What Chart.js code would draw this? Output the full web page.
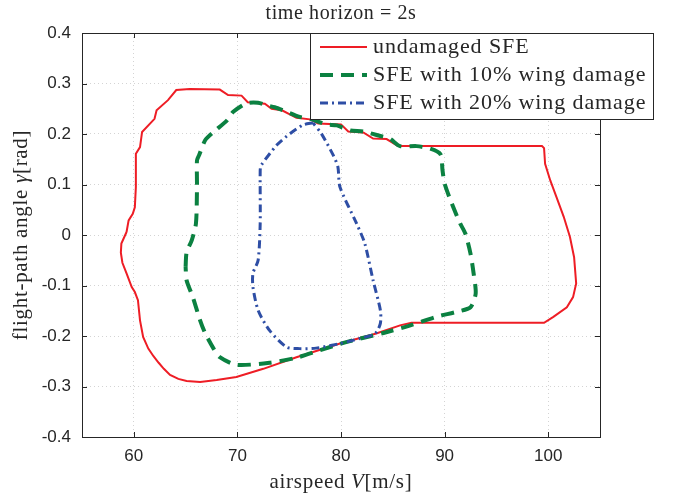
<!DOCTYPE html>
<html>
<head>
<meta charset="utf-8">
<script src="https://cdn.jsdelivr.net/npm/chart.js@4.4.1/dist/chart.umd.min.js"></script>
<style>
html,body{margin:0;padding:0;background:#fff;}
#wrap{width:673px;height:497px;}
</style>
</head>
<body>
<div id="wrap"><canvas id="c" width="673" height="497"></canvas></div>
<script>
// ---- data ----
const titleText = 'time horizon = 2s';
const seriesLabels = ['undamaged SFE', 'SFE with 10% wing damage', 'SFE with 20% wing damage'];
const xTicks = [60, 70, 80, 90, 100];
const yTicks = [-0.4, -0.3, -0.2, -0.1, 0, 0.1, 0.2, 0.3, 0.4];
const yTickLabels = ['-0.4', '-0.3', '-0.2', '-0.1', '0', '0.1', '0.2', '0.3', '0.4'];

const undamagedV = [59.3,59.5,59.9,60.1,60.2,60.2,60.6,60.8,62.0,62.2,63.3,64.1,65.4,68.3,69.1,70.4,71.0,72.65,73.3,74.3,75.7,77.0,77.8,80.0,80.7,82.15,83.1,84.4,85.5,99.4,99.6,99.7,100.2,100.8,101.5,102.1,102.5,102.7,102.4,101.8,100.5,99.6,86.8,85.7,83.4,79.9,75.7,72.5,69.9,68.0,66.4,65.1,64.3,63.5,62.9,62.4,61.9,61.4,60.9,60.6,60.4,60.1,59.8,59.3,58.9,58.75,58.8,59.3];
const undamagedG = [0.006,0.029,0.042,0.055,0.095,0.161,0.174,0.204,0.230,0.247,0.267,0.287,0.289,0.288,0.277,0.276,0.263,0.260,0.250,0.247,0.232,0.229,0.221,0.219,0.205,0.203,0.191,0.190,0.176,0.176,0.172,0.141,0.108,0.075,0.036,-0.004,-0.044,-0.096,-0.123,-0.143,-0.162,-0.174,-0.174,-0.179,-0.195,-0.215,-0.242,-0.265,-0.281,-0.287,-0.291,-0.289,-0.285,-0.277,-0.265,-0.253,-0.240,-0.225,-0.202,-0.169,-0.129,-0.113,-0.103,-0.076,-0.055,-0.035,-0.017,0.006];

const dmg10V = [65.0,65.1,65.6,66.0,66.1,66.1,66.3,66.9,67.7,69.0,69.6,70.9,72.0,72.8,73.6,74.4,76.0,77.0,78.6,79.6,80.9,82.15,83.8,84.7,85.7,87.3,88.6,89.6,89.8,90.0,90.7,91.5,92.0,92.5,92.8,93.0,92.5,91.2,89.2,86.7,84.1,80.5,78.0,75.7,73.1,69.9,68.3,67.7,66.9,66.4,65.7,65.1,65.0];
const dmg10G = [-0.063,-0.034,-0.010,0.023,0.095,0.148,0.158,0.188,0.204,0.227,0.244,0.261,0.262,0.257,0.253,0.247,0.234,0.230,0.219,0.217,0.207,0.205,0.196,0.191,0.176,0.176,0.171,0.160,0.128,0.102,0.062,0.023,0.003,-0.037,-0.076,-0.116,-0.143,-0.152,-0.162,-0.179,-0.194,-0.212,-0.228,-0.243,-0.253,-0.257,-0.242,-0.225,-0.195,-0.169,-0.123,-0.090,-0.063];

const dmg20V = [77.3,76.35,75.1,73.8,72.3,72.2,72.2,72.0,71.5,71.5,72.0,73.1,74.75,76.0,77.6,79.9,81.8,83.3,83.8,83.8,83.1,82.3,81.5,79.9,79.7,79.25,78.1,77.3];
const dmg20G = [0.222,0.218,0.201,0.178,0.138,0.128,0.023,-0.050,-0.076,-0.103,-0.149,-0.189,-0.222,-0.225,-0.224,-0.215,-0.205,-0.195,-0.175,-0.149,-0.090,-0.017,0.023,0.095,0.135,0.158,0.201,0.222];

// ---- styles ----
const RED = '#ee1d25', GREEN = '#0b8141', BLUE = '#2e4ea5', INK = '#262626';
const styles = [
  {color: RED, width: 2, dash: [], tension: 0},
  {color: GREEN, width: 4, dash: [13, 8], tension: 0.25},
  {color: BLUE, width: 3, dash: [8, 4, 2, 4], tension: 0.25}
];
const SERIF = '"Liberation Serif", "Times New Roman", serif';
const SANS = '"Liberation Sans", Arial, Helvetica, sans-serif';

function pts(xs, ys) { return xs.map((x, i) => ({x: x, y: ys[i]})); }

const decor = {
  id: 'decor',
  afterDatasetsDraw(chart) {
    const ctx = chart.ctx, a = chart.chartArea;
    const xs = chart.scales.x, ys = chart.scales.y;
    ctx.save();
    // box
    ctx.strokeStyle = INK; ctx.lineWidth = 1; ctx.setLineDash([]);
    ctx.strokeRect(Math.round(a.left) + 0.5, Math.round(a.top) + 0.5, Math.round(a.right - a.left), Math.round(a.bottom - a.top));
    // inward ticks
    const tl = 5;
    ctx.beginPath();
    xTicks.forEach(v => {
      const px = Math.round(xs.getPixelForValue(v)) + 0.5;
      ctx.moveTo(px, a.bottom); ctx.lineTo(px, a.bottom - tl);
      ctx.moveTo(px, a.top); ctx.lineTo(px, a.top + tl);
    });
    yTicks.forEach(v => {
      const py = Math.round(ys.getPixelForValue(v)) + 0.5;
      ctx.moveTo(a.left, py); ctx.lineTo(a.left + tl, py);
      ctx.moveTo(a.right, py); ctx.lineTo(a.right - tl, py);
    });
    ctx.stroke();

    const setLS = (v) => { try { ctx.letterSpacing = v; } catch (e) {} };

    // title
    ctx.fillStyle = INK;
    ctx.font = '20px ' + SERIF;
    setLS('0.6px');
    ctx.textAlign = 'center'; ctx.textBaseline = 'middle';
    ctx.fillText(titleText, (a.left + a.right) / 2, 14);

    // axis labels with italic symbols
    const drawMixed = (parts, cx, cy) => {
      let w = 0;
      parts.forEach(p => { ctx.font = p[1]; w += ctx.measureText(p[0]).width; });
      let x = cx - w / 2;
      ctx.textAlign = 'left';
      parts.forEach(p => { ctx.font = p[1]; ctx.fillText(p[0], x, cy); x += ctx.measureText(p[0]).width; });
    };
    const rom = '21px ' + SERIF, ita = 'italic 21px ' + SERIF;
    setLS('0.7px');
    drawMixed([['airspeed ', rom], ['V', ita], ['[m/s]', rom]], (a.left + a.right) / 2, 482);
    ctx.save();
    ctx.translate(21, (a.top + a.bottom) / 2);
    ctx.rotate(-Math.PI / 2);
    drawMixed([['flight-path angle ', rom], ['\u03B3', ita], ['[rad]', rom]], 0, 0);
    ctx.restore();

    // legend
    setLS('0px');
    const L = 310.5, T = 33.5, R = 653.5, B = 119.5;
    ctx.fillStyle = '#ffffff';
    ctx.fillRect(L, T, R - L, B - T);
    ctx.strokeStyle = INK; ctx.lineWidth = 1;
    ctx.strokeRect(L, T, R - L, B - T);
    const rows = [47, 75, 103];
    ctx.font = '22px ' + SERIF;
    setLS('0.9px');
    ctx.textAlign = 'left'; ctx.textBaseline = 'middle';
    seriesLabels.forEach((lab, i) => {
      const s = styles[i];
      ctx.strokeStyle = s.color; ctx.lineWidth = s.width; ctx.setLineDash(s.dash);
      ctx.beginPath(); ctx.moveTo(320, rows[i]); ctx.lineTo(367, rows[i]); ctx.stroke();
      ctx.setLineDash([]);
      ctx.fillStyle = INK;
      ctx.fillText(lab, 373, rows[i]);
    });
    setLS('0px');
    ctx.restore();
  }
};

const datasets = [
  {label: seriesLabels[0], data: pts(undamagedV, undamagedG), order: 3},
  {label: seriesLabels[1], data: pts(dmg10V, dmg10G), order: 2},
  {label: seriesLabels[2], data: pts(dmg20V, dmg20G), order: 1}
].map((d, i) => Object.assign(d, {
  showLine: true, pointRadius: 0, borderColor: styles[i].color, borderWidth: styles[i].width,
  borderDash: styles[i].dash, tension: styles[i].tension, fill: false
}));

new Chart(document.getElementById('c'), {
  type: 'scatter',
  data: {datasets: datasets},
  options: {
    responsive: false, animation: false, devicePixelRatio: 1,
    layout: {padding: {top: 33, left: 0, right: 73, bottom: 0}},
    plugins: {legend: {display: false}, title: {display: false}, tooltip: {enabled: false}},
    scales: {
      x: {
        type: 'linear', min: 55, max: 105,
        afterBuildTicks: s => { s.ticks = xTicks.map(v => ({value: v})); },
        afterFit: s => { s.height = 60; },
        grid: {color: '#d4d4d4', lineWidth: 1, drawTicks: false},
        border: {display: false, dash: [1, 3]},
        ticks: {padding: 9, color: INK, font: {family: SANS, size: 17}, maxRotation: 0}
      },
      y: {
        type: 'linear', min: -0.4, max: 0.4,
        afterBuildTicks: s => { s.ticks = yTicks.map(v => ({value: v})); },
        afterFit: s => { s.width = 82; },
        grid: {color: '#d4d4d4', lineWidth: 1, drawTicks: false},
        border: {display: false, dash: [1, 3]},
        ticks: {padding: 11, color: INK, font: {family: SANS, size: 17},
          callback: (v) => { const i = yTicks.findIndex(t => Math.abs(t - v) < 1e-9); return i >= 0 ? yTickLabels[i] : ''; }}
      }
    }
  },
  plugins: [decor]
});
</script>
</body>
</html>
